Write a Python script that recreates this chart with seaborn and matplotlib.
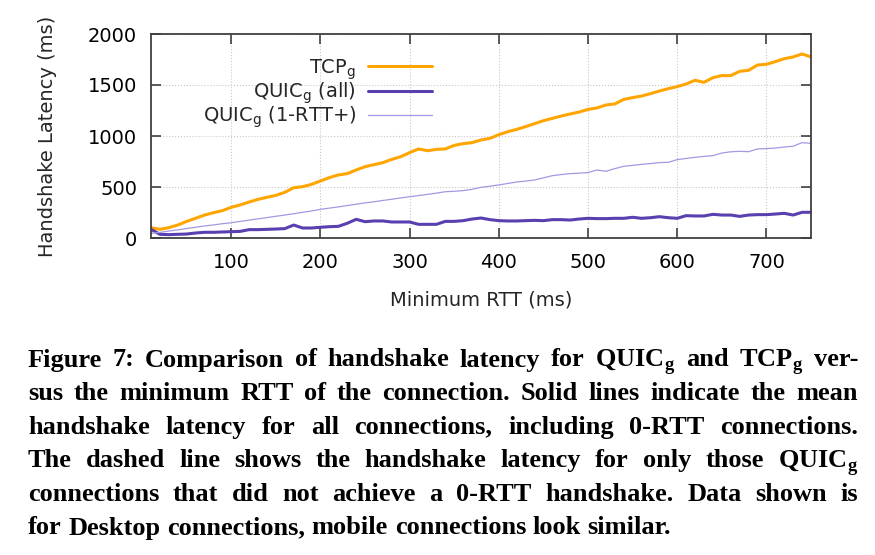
import matplotlib
matplotlib.use('Agg')
import matplotlib.pyplot as plt
import numpy as np
import pandas as pd
import seaborn as sns

sns.set_theme(style='ticks')
plt.rcParams['font.family'] = ['DejaVu Sans']
plt.rcParams['mathtext.fontset'] = 'dejavusans'

# minimum RTT bins (ms)
rtt = np.arange(10, 760, 10)

tcp = [101, 85, 101, 127, 163, 193, 225, 248, 268, 301,
       324, 353, 379, 399, 418, 448, 493, 503, 526, 559,
       592, 618, 631, 667, 699, 719, 739, 771, 797, 837,
       873, 856, 869, 873, 908, 925, 935, 961, 977, 1013,
       1042, 1065, 1092, 1121, 1150, 1173, 1196, 1216, 1235, 1261,
       1275, 1304, 1314, 1359, 1376, 1392, 1415, 1441, 1464, 1484,
       1510, 1546, 1526, 1572, 1592, 1592, 1634, 1644, 1696, 1703,
       1729, 1758, 1775, 1804, 1775]

quic_all = [85, 36, 33, 36, 39, 49, 56, 56, 59, 62,
            65, 82, 82, 85, 88, 92, 127, 98, 98, 105,
            111, 114, 144, 183, 160, 167, 167, 157, 157, 157,
            134, 134, 134, 163, 163, 170, 186, 196, 180, 170,
            167, 167, 170, 173, 170, 180, 180, 176, 186, 193,
            190, 190, 193, 193, 203, 193, 199, 209, 199, 193,
            219, 216, 216, 232, 225, 225, 212, 225, 229, 229,
            235, 242, 225, 252, 252]

quic_1rtt = [46, 55, 68, 80, 93, 105, 118, 128, 140, 150,
             163, 175, 188, 200, 213, 225, 238, 252, 265, 281,
             293, 305, 318, 331, 344, 355, 368, 380, 393, 405,
             416, 428, 440, 454, 458, 465, 477, 497, 508, 520,
             535, 549, 558, 569, 590, 611, 622, 631, 636, 641,
             667, 654, 680, 703, 712, 722, 730, 739, 742, 768,
             780, 791, 800, 807, 833, 845, 850, 846, 873, 876,
             882, 892, 900, 935, 928]

labels = [r'TCP$_\mathregular{g}$', r'QUIC$_\mathregular{g}$ (all)',
          r'QUIC$_\mathregular{g}$ (1-RTT+)']

caption = [
    r'Figure 7: Comparison of handshake latency for QUIC$_\mathregular{g}$ and TCP$_\mathregular{g}$ ver-',
    'sus the minimum RTT of the connection. Solid lines indicate the mean',
    'handshake latency for all connections, including 0-RTT connections.',
    r'The dashed line shows the handshake latency for only those QUIC$_\mathregular{g}$',
    'connections that did not achieve a 0-RTT handshake. Data shown is',
    'for Desktop connections, mobile connections look similar.',
]

W, H = 875, 555
fig = plt.figure(figsize=(W / 100, H / 100), dpi=100)
fig.patch.set_facecolor('white')
ax = fig.add_axes([151 / W, 1 - 238 / H, (811 - 151) / W, (238 - 34) / H])

sns.lineplot(x=rtt, y=tcp, ax=ax, color='#ffa500', linewidth=2.2, label=labels[0])
sns.lineplot(x=rtt, y=quic_all, ax=ax, color='#5a3fb0', linewidth=2.2, label=labels[1])
sns.lineplot(x=rtt, y=quic_1rtt, ax=ax, color='#a598e2', linewidth=0.9, label=labels[2])

ax.set_xlim(10, 750)
ax.set_ylim(0, 2000)
ax.set_xticks([100, 200, 300, 400, 500, 600, 700])
ax.set_yticks([0, 500, 1000, 1500, 2000])
ax.grid(True, linestyle=':', color='#c8c8c8', linewidth=0.8)
for s in ax.spines.values():
    s.set_visible(True)
    s.set_color('#404040')
    s.set_linewidth(1.3)
ax.tick_params(direction='in', length=7, width=1.2, color='#404040',
               labelsize=14, top=True, right=True, labelcolor='black')
ax.tick_params(axis='y', pad=10)
ax.tick_params(axis='x', pad=11)
ax.set_xlabel('Minimum RTT (ms)', fontsize=14, labelpad=13)
ax.set_ylabel('Handshake Latency (ms)', fontsize=14, labelpad=22)

leg = ax.legend(loc='upper right', bbox_to_anchor=(432 / W, 1 - 57 / H),
                bbox_transform=fig.transFigure, frameon=False, fontsize=14,
                markerfirst=False, alignment='right', borderpad=0,
                borderaxespad=0, handlelength=3.3, handletextpad=0.6,
                labelspacing=-0.06)

# caption, justified like the paper
cap = dict(family='Liberation Serif', weight='bold', size=19, color='black')
renderer = fig.canvas.get_renderer()


def width(s):
    t = fig.text(0, 0, s, **cap)
    w = t.get_window_extent(renderer).width
    t.remove()
    return w


x0, x1 = 28, 858
space = width('a b') - width('ab')
for i, line in enumerate(caption):
    words = line.split(' ')
    ws = [width(w) for w in words]
    if i < len(caption) - 1:
        gap = (x1 - x0 - sum(ws)) / (len(words) - 1)
    else:
        gap = space
    x = x0
    y = 366.5 + i * 33.6
    for w, wd in zip(words, ws):
        fig.text(x / W, 1 - y / H, w, va='baseline', ha='left', **cap)
        x += wd + gap

fig.savefig('out.png', dpi=100, facecolor='white')
